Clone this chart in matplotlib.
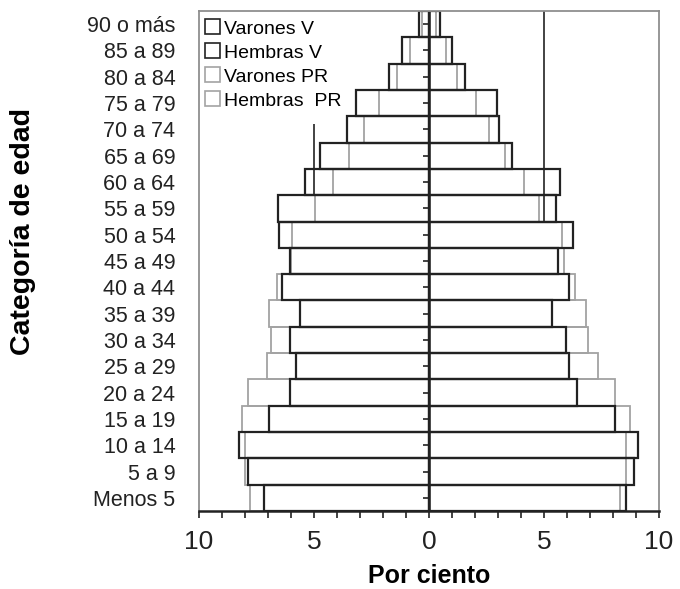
import numpy as np
import matplotlib
matplotlib.use('Agg')
from matplotlib import pyplot as plt
from matplotlib.patches import Patch
from matplotlib.ticker import MultipleLocator, FuncFormatter

plt.rcParams['font.family'] = ['Liberation Sans', 'DejaVu Sans']

# datos (de abajo hacia arriba)
edades = ['Menos 5', '5 a 9', '10 a 14', '15 a 19', '20 a 24', '25 a 29', '30 a 34',
          '35 a 39', '40 a 44', '45 a 49', '50 a 54', '55 a 59', '60 a 64', '65 a 69',
          '70 a 74', '75 a 79', '80 a 84', '85 a 89', '90 o más']
varones_v = [7.16, 7.88, 8.26, 6.97, 6.04, 5.78, 6.04, 5.59, 6.41, 6.04,
             6.51, 6.58, 5.39, 4.74, 3.55, 3.19, 1.72, 1.19, 0.43]
hembras_v = [8.55, 8.91, 9.10, 8.09, 6.43, 6.07, 5.96, 5.35, 6.09, 5.62,
             6.26, 5.52, 5.71, 3.59, 3.04, 2.97, 1.57, 1.01, 0.48]
varones_pr = [7.80, 7.99, 8.00, 8.14, 7.88, 7.04, 6.87, 6.97, 6.59, 6.00,
              5.96, 4.94, 4.19, 3.49, 2.83, 2.17, 1.38, 0.83, 0.32]
hembras_pr = [8.30, 8.55, 8.55, 8.74, 8.09, 7.35, 6.90, 6.81, 6.35, 5.88,
              5.80, 4.78, 4.14, 3.32, 2.59, 2.03, 1.20, 0.74, 0.30]
leyenda = ['Varones V', 'Hembras V', 'Varones PR', 'Hembras  PR']

gris = '#a3a3a3'
y = np.arange(len(edades))

fig = plt.figure(figsize=(6.8, 5.89), dpi=100)
ax = fig.add_axes([199/680, 1-511/589, 460/680, 500/589])

# PR primero (gris), luego V (negro) encima
ax.barh(y, [-v for v in varones_pr], height=1.0, fill=False, edgecolor=gris, linewidth=1.3)
ax.barh(y, hembras_pr, height=1.0, fill=False, edgecolor=gris, linewidth=1.3)
ax.barh(y, [-v for v in varones_v], height=1.0, fill=False, edgecolor='#222222', linewidth=1.6)
ax.barh(y, hembras_v, height=1.0, fill=False, edgecolor='#222222', linewidth=1.6)

# eje central y lineas sueltas
ax.axvline(0, color='#222222', linewidth=1.8)
ax.plot(np.zeros(len(y)), y, ls='none', marker=0, markersize=4, color='#222222', mew=1.2)
ax.vlines(5, 10.5, len(edades) - 0.5, color='#222222', linewidth=1.2)
ax.vlines(-5, 11.5, 14.2, color='#222222', linewidth=1.2)

ax.set_xlim(-10, 10)
ax.set_ylim(-0.5, len(edades) - 0.5)
ax.xaxis.set_major_locator(MultipleLocator(5))
ax.xaxis.set_minor_locator(MultipleLocator(1))
ax.xaxis.set_major_formatter(FuncFormatter(lambda v, p: f'{abs(v):g}'))
ax.tick_params(axis='x', which='both', direction='out', length=5, width=1.2,
               colors='#222222', labelsize=19, pad=9)
ax.set_yticks(y)
ax.set_yticklabels(edades)
ax.tick_params(axis='y', length=0, labelsize=15.5, pad=17, colors='#222222')

for s in ['left', 'top', 'right']:
    ax.spines[s].set_color('#8f8f8f')
    ax.spines[s].set_linewidth(1.3)
ax.spines['bottom'].set_color('#222222')
ax.spines['bottom'].set_linewidth(1.8)

ax.set_xlabel('Por ciento', fontsize=18, fontweight='bold', labelpad=7)
fig.text(23/680, 1-232/589, 'Categoría de edad', rotation=90, fontsize=20.5,
         fontweight='bold', ha='center', va='center')

handles = [Patch(facecolor='white', edgecolor='#222222', linewidth=1.2),
           Patch(facecolor='white', edgecolor='#222222', linewidth=1.2),
           Patch(facecolor='white', edgecolor=gris, linewidth=1.2),
           Patch(facecolor='white', edgecolor=gris, linewidth=1.2)]
ax.legend(handles, leyenda, loc='upper left', bbox_to_anchor=(0.0, 0.995), frameon=False,
          fontsize=14, handlelength=0.8, handleheight=0.8, handletextpad=0.2,
          labelspacing=0.3, borderaxespad=0.1, borderpad=0.2)

plt.savefig('out.png', dpi=100)
